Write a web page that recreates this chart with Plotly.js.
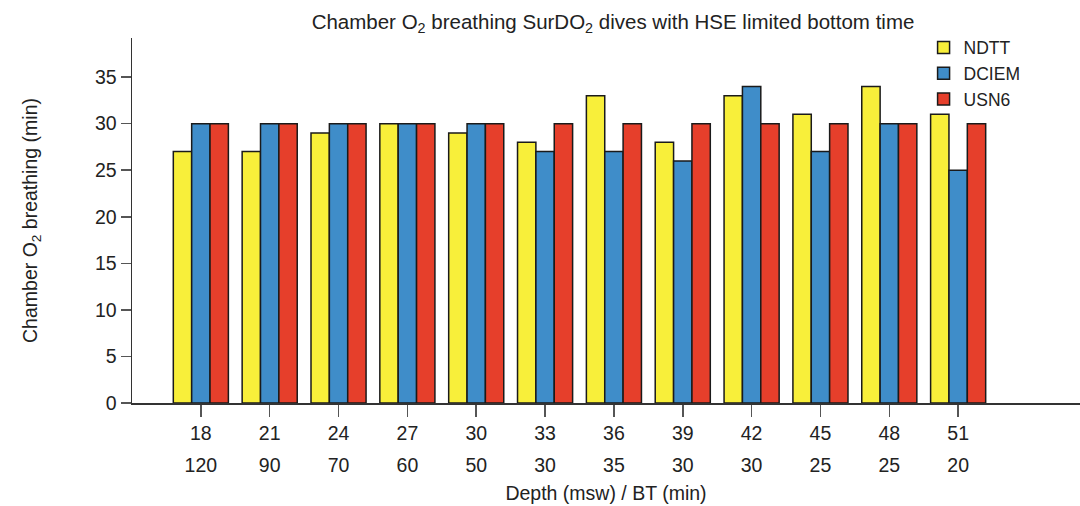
<!DOCTYPE html>
<html>
<head>
<meta charset="utf-8">
<script src="https://cdn.plot.ly/plotly-3.0.1.min.js"></script>
<style>html,body{margin:0;padding:0;background:#fff;}#chart{width:1080px;height:506px;}</style>
</head>
<body>
<div id="chart"></div>
<script>
var depths = ["18","21","24","27","30","33","36","39","42","45","48","51"];
var bottomTimes = ["120","90","70","60","50","30","35","30","30","25","25","20"];
var ndtt  = [27,27,29,30,29,28,33,28,33,31,34,31];
var dciem = [30,30,30,30,30,27,27,26,34,27,30,25];
var usn6  = [30,30,30,30,30,30,30,30,30,30,30,30];
var seriesNames = ["NDTT","DCIEM","USN6"];
var seriesColors = ["#f8ef3a","#3f8dc9","#e63f2b"];

var idx = depths.map(function(d,i){return i;});
var seriesData = [ndtt, dciem, usn6];
var traces = seriesData.map(function(vals,k){
  return {
    type:'bar', x: idx, y: vals, name: seriesNames[k],
    marker:{color: seriesColors[k], line:{color:'#1a1a1a', width:1.5}},
    hoverinfo:'y+name'
  };
});
// invisible trace for second x axis (BT labels)
traces.push({type:'scatter', x: idx, y: usn6, xaxis:'x2', yaxis:'y', mode:'none', showlegend:false, hoverinfo:'skip'});

var fam = 'Liberation Sans, Arial, sans-serif';
var fnt = {family:fam, size:19.5, color:'#222'};
var layout = {
  width:1080, height:506,
  margin:{l:132, r:0, t:38, b:55},
  paper_bgcolor:'#fff', plot_bgcolor:'#fff',
  font: fnt,
  barmode:'group', bargap:0.2, bargroupgap:0,
  title:{text:'Chamber O<sub>2</sub> breathing SurDO<sub>2</sub> dives with HSE limited bottom time',
         font:{family:fam, size:20.5, color:'#222'}, x:0.5676, xanchor:'center', xref:'container', y:0.957, yanchor:'middle'},
  xaxis:{
    range:[-1, 12.77], tickmode:'array', tickvals: idx, ticktext: depths,
    showline:true, linecolor:'#333', linewidth:1.5, ticks:'outside', ticklen:12, tickwidth:1.5, tickcolor:'#555',
    showgrid:false, zeroline:false, tickfont:fnt, ticklabelstandoff:0, fixedrange:true
  },
  xaxis2:{
    overlaying:'x', anchor:'free', position:0, side:'bottom', matches:'x',
    tickmode:'array', tickvals: idx, ticktext: bottomTimes,
    showline:false, ticks:'', showgrid:false, zeroline:false, tickfont:fnt,
    title:{text:'Depth (msw) / BT (min)', font:fnt, standoff:11}
  },
  yaxis:{
    domain:[0.1162,1], range:[0,39.2], tickmode:'array', tickvals:[0,5,10,15,20,25,30,35],
    showline:true, linecolor:'#333', linewidth:1.5, ticks:'outside', ticklen:10, tickwidth:1.5, tickcolor:'#555',
    showgrid:false, zeroline:false, tickfont:fnt,
    title:{text:'Chamber O<sub>2</sub> breathing (min)', font:fnt, standoff:52}
  },
  legend:{x:0.835, y:1.02, xanchor:'left', yanchor:'top', bgcolor:'rgba(0,0,0,0)', font:{family:fam, size:17.5, color:'#222'}, tracegroupgap:0, itemwidth:30},
  showlegend:true
};
Plotly.newPlot('chart', traces, layout, {displayModeBar:false, staticPlot:true});
</script>
</body>
</html>
